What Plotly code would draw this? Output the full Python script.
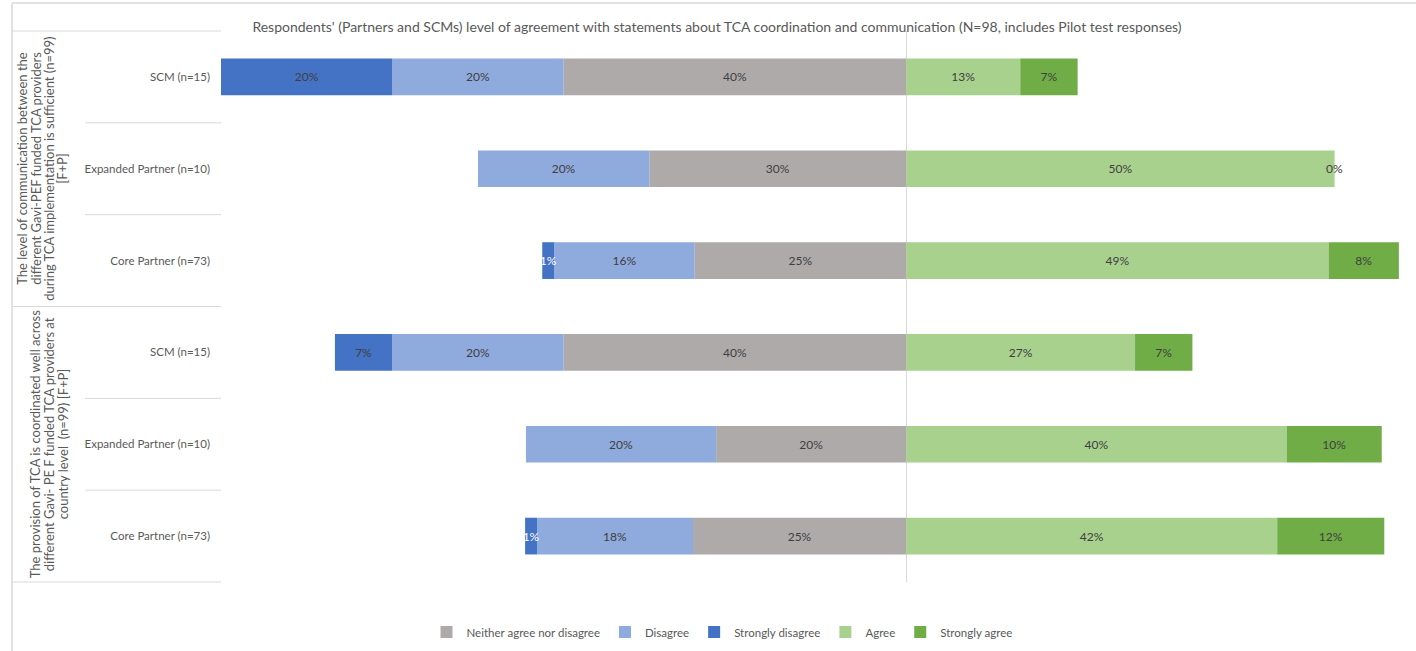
import plotly.graph_objects as go

# data (percent of respondents), rows top to bottom
row_ids = ["q1_scm", "q1_exp", "q1_core", "q2_scm", "q2_exp", "q2_core"]
row_labels = ["SCM (n=15)", "Expanded Partner (n=10)", "Core Partner (n=73)"] * 2
group_lines = [
    ["The level of communication between the",
     "different Gavi-PEF funded TCA providers",
     "during TCA implementation is sufficient (n=99)",
     "[F+P]"],
    ["The provision of TCA is coordinated well across",
     "different Gavi- PE F funded TCA providers at",
     "country level  (n=99) [F+P]"],
]

neutral = [40, 30, 24.7, 40, 22.2, 24.9]
disagree = [20, 20, 16.4, 20, 22.2, 18.2]
strongly_disagree = [20, 0, 1.4, 6.7, 0, 1.4]
agree = [13.3, 50, 49.3, 26.7, 44.4, 43.3]
strongly_agree = [6.7, 0, 8.2, 6.7, 11.1, 12.5]

neutral_lbl = ["40%", "30%", "25%", "40%", "20%", "25%"]
disagree_lbl = ["20%", "20%", "16%", "20%", "20%", "18%"]
strongly_disagree_lbl = ["20%", "", "1%", "7%", "", "1%"]
agree_lbl = ["13%", "50%", "49%", "27%", "40%", "42%"]
strongly_agree_lbl = ["7%", "0%", "8%", "7%", "10%", "12%"]

# styles
font_family = "Lato, Open Sans, sans-serif"
txt_grey = "#595959"
line_grey = "#D9D9D9"
colors = {
    "neutral": "#AEAAAA",
    "disagree": "#8FAADC",
    "sd": "#4472C4",
    "agree": "#A9D18E",
    "sa": "#70AD47",
}
W, H = 1416, 651
plot_l, plot_r, plot_t, plot_b = 221, 1416, 31, 582  # plot area in px


def px_x(px):
    return (px - plot_l) / (plot_r - plot_l)


def px_y(py):
    return (plot_b - py) / (plot_b - plot_t)


fig = go.Figure()

series = [
    ("Neither agree nor disagree", neutral, neutral_lbl, colors["neutral"], -1, "#404040"),
    ("Disagree", disagree, disagree_lbl, colors["disagree"], -1, "#404040"),
    ("Strongly disagree", strongly_disagree, strongly_disagree_lbl, colors["sd"], -1,
     ["#404040", "#404040", "white", "#404040", "#404040", "white"]),
    ("Agree", agree, agree_lbl, colors["agree"], 1, "#404040"),
    ("Strongly agree", strongly_agree, strongly_agree_lbl, colors["sa"], 1, "#404040"),
]

for name, vals, lbls, col, sign, tcol in series:
    fig.add_trace(go.Bar(
        name=name,
        y=row_ids,
        x=[sign * v for v in vals],
        orientation="h",
        marker=dict(color=col, line=dict(width=0)),
        text=lbls,
        textposition="inside",
        insidetextanchor="middle",
        constraintext="none",
        textangle=0,
        textfont=dict(size=12, color=tcol, family=font_family),
        hoverinfo="name+text",
    ))

# zero-width segments still get their label, placed at the end of the stack
for rid, a, sa, lbl in zip(row_ids, agree, strongly_agree, strongly_agree_lbl):
    if sa == 0:
        fig.add_annotation(x=a + sa, y=rid, text=lbl, showarrow=False,
                           font=dict(size=12, color="#404040", family=font_family))

fig.update_layout(
    barmode="relative",
    bargap=0.6,
    width=W,
    height=H,
    margin=dict(l=plot_l, r=W - plot_r, t=plot_t, b=H - plot_b, autoexpand=False),
    paper_bgcolor="white",
    plot_bgcolor="white",
    font=dict(family=font_family, color=txt_grey, size=12),
    title=dict(
        text="Respondents' (Partners and SCMs) level of agreement with statements about TCA "
             "coordination and communication (N=98, includes Pilot test responses)",
        x=717 / W, xanchor="center", xref="container",
        y=1 - 27 / H, yanchor="middle", yref="container",
        font=dict(size=14, color=txt_grey, family=font_family),
    ),
    legend=dict(
        orientation="h",
        x=px_x(722), xanchor="center",
        y=px_y(632), yanchor="middle",
        font=dict(size=11.5, color=txt_grey),
        traceorder="normal",
        itemwidth=30,
    ),
    showlegend=True,
)

fig.update_xaxes(
    range=[-80, 59.5],
    showgrid=False,
    showticklabels=False,
    zeroline=True,
    zerolinecolor=line_grey,
    zerolinewidth=1,
    fixedrange=True,
)
fig.update_yaxes(
    autorange="reversed",
    tickmode="array",
    tickvals=row_ids,
    ticktext=row_labels,
    ticks="",
    ticklabelstandoff=10,
    showgrid=False,
    tickfont=dict(size=11.5, color=txt_grey),
)

# category separators and chart border (paper coords)
xl = px_x(12)
xs = px_x(85)
for yv in [1, 0.5, 0]:
    fig.add_shape(type="line", xref="paper", yref="paper", x0=xl, x1=0, y0=yv, y1=yv,
                  line=dict(color=line_grey, width=1))
for yv in [5 / 6, 4 / 6, 2 / 6, 1 / 6]:
    fig.add_shape(type="line", xref="paper", yref="paper", x0=xs, x1=0, y0=yv, y1=yv,
                  line=dict(color=line_grey, width=1))
ytop = px_y(3)
fig.add_shape(type="line", xref="paper", yref="paper", x0=xl, x1=1.01, y0=ytop, y1=ytop,
              line=dict(color=line_grey, width=1.5))
fig.add_shape(type="line", xref="paper", yref="paper", x0=xl, x1=xl, y0=ytop, y1=px_y(660),
              line=dict(color=line_grey, width=1.5))

# rotated group labels, one annotation per line
line_x = [[22, 36, 49, 62], [35, 49, 63]]
for lines, xs_px, yc in zip(group_lines, line_x, [0.75, 0.25]):
    for ln, xp in zip(lines, xs_px):
        fig.add_annotation(
            text=ln, textangle=-90, xref="paper", yref="paper",
            x=px_x(xp), y=yc, xanchor="center", yanchor="middle",
            showarrow=False,
            font=dict(size=13, color=txt_grey, family=font_family),
        )

fig.write_html("out.html", config={"displayModeBar": False},
               post_script="document.body.style.margin = '0';")
